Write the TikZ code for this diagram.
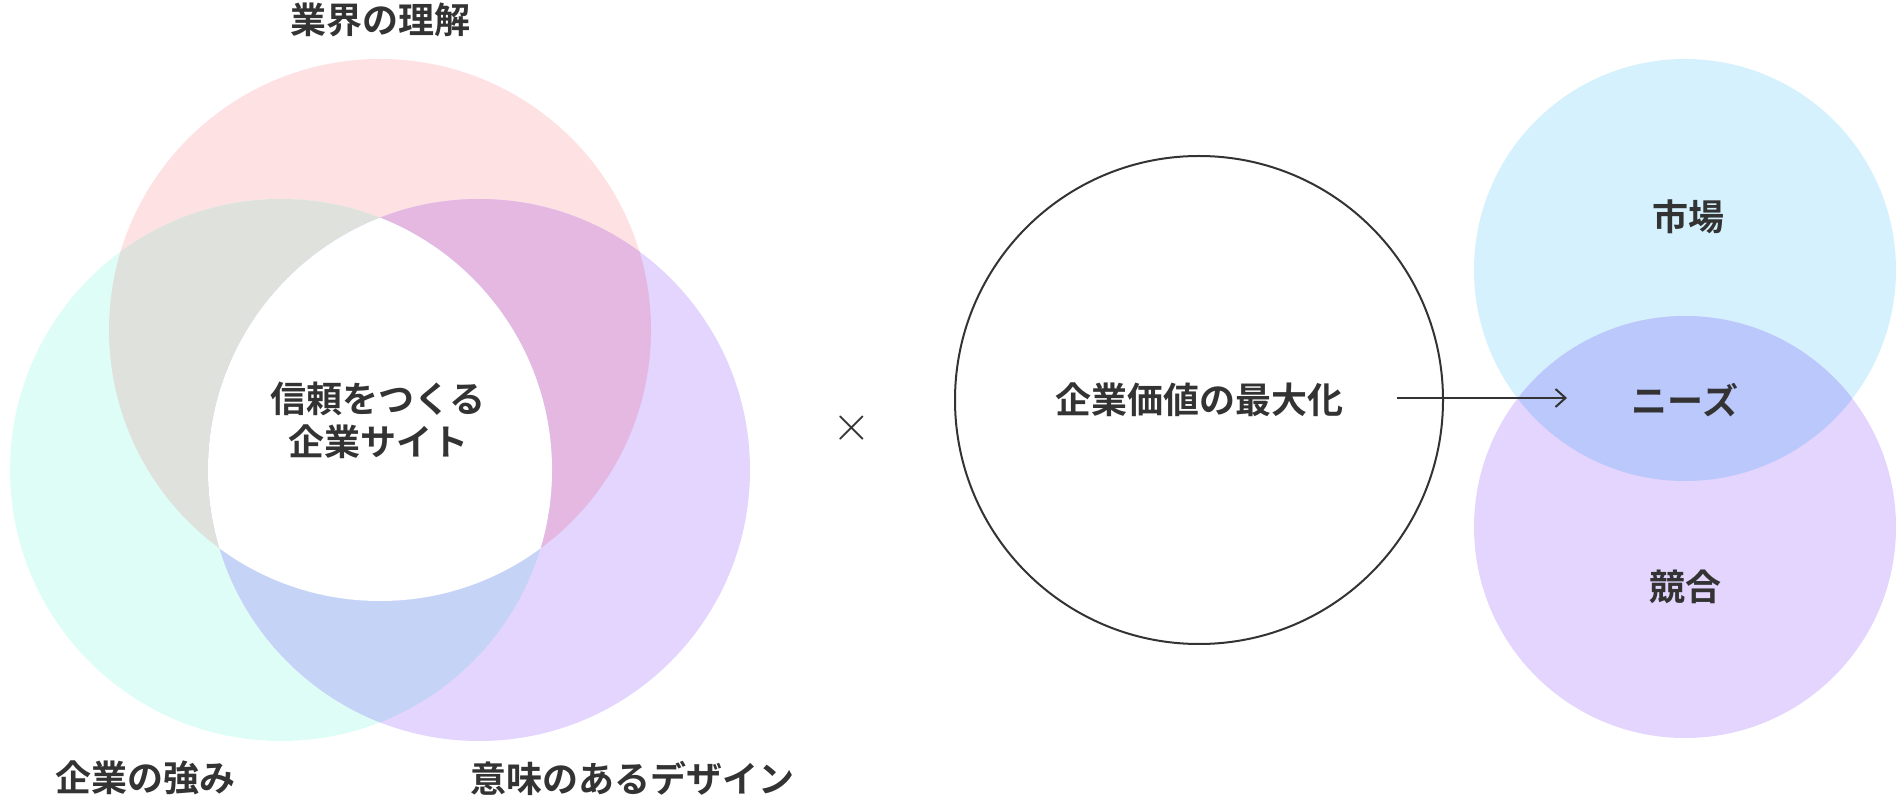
\documentclass[tikz,border=0pt]{standalone}
\usepackage{fontspec}
\setmainfont{Noto Sans CJK JP}[BoldFont={* Bold}]
\usetikzlibrary{arrows.meta}

\definecolor{ink}{HTML}{333333}
\definecolor{pinkc}{HTML}{FEE1E2}
\definecolor{mintc}{HTML}{DFFDF7}
\definecolor{lilacc}{HTML}{E3D5FE}
\definecolor{greyc}{HTML}{DFE2DC}
\definecolor{magc}{HTML}{E5B8E2}
\definecolor{bluec}{HTML}{C5D4F6}
\definecolor{skyc}{HTML}{D4F1FD}
\definecolor{needc}{HTML}{BAC8FC}

\begin{document}
\begin{tikzpicture}[x=0.5pt,y=-0.5pt]

      \useasboundingbox (0,0) rectangle (1896,796);

      \coordinate (u) at (380,330);
      \coordinate (s) at (281,470);
      \coordinate (d) at (479,470);
      \coordinate (m) at (1685,270);
      \coordinate (c) at (1685,527);

      \fill[pinkc] (u) circle (271);
      \fill[mintc] (s) circle (271);
      \fill[lilacc] (d) circle (271);

      \begin{scope}
        \clip (u) circle (271);
        \fill[greyc] (s) circle (271);
        \fill[magc] (d) circle (271);
      \end{scope}

      \begin{scope}
        \clip (s) circle (271);
        \fill[bluec] (d) circle (271);
        \clip (d) circle (271);
        \fill[white] (u) circle (271);
      \end{scope}

      \fill[skyc] (m) circle (211);
      \fill[lilacc] (c) circle (211);
      \begin{scope}
        \clip (m) circle (211);
        \fill[needc] (c) circle (211);
      \end{scope}

      \begin{scope}[every node/.style={text=ink,align=center,inner sep=0pt,
          font=\fontsize{18}{21.5}\selectfont\bfseries}]
        \node (industry) at (380,20) {業界の理解};
        \node (strength) at (145,778) {企業の強み};
        \node (design) at (632,778) {意味のあるデザイン};
        \node (trust) at (378,420) {信頼をつくる\\企業サイト};
        \node[draw=ink,line width=1pt,circle,minimum size=244pt] (value) at (1199,400) {企業価値の最大化};
        \node (market) at (1688,217) {市場};
        \node (needs) at (1685,400) {ニーズ};
        \node (rival) at (1685,587) {競合};
      \end{scope}

      \node[text=ink,font=\fontsize{30}{30}\selectfont] (times) at (852,428) {$\times$};

      \coordinate (from) at (1397,398);
      \coordinate (to) at (1567,398);
      \draw[ink,line width=1pt,-{Straight Barb[length=5pt,width=9pt]}] (from) -- (to);

    \end{tikzpicture}
\end{document}
